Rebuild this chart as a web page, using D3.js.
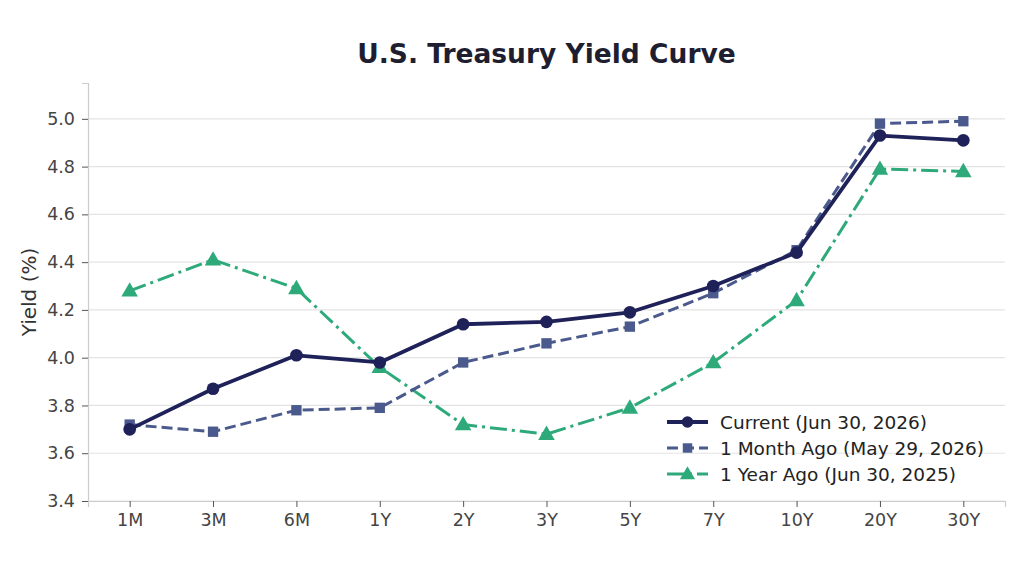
<!DOCTYPE html>
<html>
<head>
<meta charset="utf-8">
<script src="https://cdn.jsdelivr.net/npm/d3@7"></script>
<style>
  body { margin: 0; background: #fff; }
  text { font-family: "DejaVu Sans", sans-serif; }
</style>
</head>
<body>
<svg id="chart" width="1024" height="576"></svg>
<script>
// data
var tenors = ["1M", "3M", "6M", "1Y", "2Y", "3Y", "5Y", "7Y", "10Y", "20Y", "30Y"];
var current = [3.70, 3.87, 4.01, 3.98, 4.14, 4.15, 4.19, 4.30, 4.44, 4.93, 4.91];
var monthAgo = [3.72, 3.69, 3.78, 3.79, 3.98, 4.06, 4.13, 4.27, 4.45, 4.98, 4.99];
var yearAgo = [4.28, 4.41, 4.29, 3.96, 3.72, 3.68, 3.79, 3.98, 4.24, 4.79, 4.78];
var yTicks = [3.4, 3.6, 3.8, 4.0, 4.2, 4.4, 4.6, 4.8, 5.0];

var series = [
  { name: "Current (Jun 30, 2026)", values: current, color: "#1f2159", width: 3.8, dash: null, marker: "circle" },
  { name: "1 Month Ago (May 29, 2026)", values: monthAgo, color: "#4b5a8c", width: 3, dash: "11,5", marker: "square" },
  { name: "1 Year Ago (Jun 30, 2025)", values: yearAgo, color: "#2eaa7a", width: 3, dash: "17,5,3,5", marker: "triangle" }
];

var svg = d3.select("#chart"),
    margin = { top: 83, right: 19, bottom: 75, left: 88 },
    width = +svg.attr("width") - margin.left - margin.right,
    height = +svg.attr("height") - margin.top - margin.bottom;

var x = d3.scalePoint().domain(tenors).range([0, width]).padding(0.5);
var y = d3.scaleLinear().domain([3.4, 5.15]).range([height, 0]);

var g = svg.append("g").attr("transform", "translate(" + margin.left + "," + margin.top + ")");

// grid
g.append("g").selectAll("line")
  .data(yTicks).enter()
  .append("line")
  .attr("x1", 0).attr("x2", width)
  .attr("y1", function(d) { return y(d); })
  .attr("y2", function(d) { return y(d); })
  .attr("stroke", "#e3e3e3")
  .attr("stroke-width", 1.2);

// axes
var yAxis = g.append("g")
  .call(d3.axisLeft(y).tickValues(yTicks).tickFormat(d3.format(".1f")).tickSize(6).tickPadding(7));
var xAxis = g.append("g")
  .attr("transform", "translate(0," + height + ")")
  .call(d3.axisBottom(x).tickSize(6).tickPadding(7));

[xAxis, yAxis].forEach(function(a) {
  a.select(".domain").attr("stroke", "#cccccc").attr("stroke-width", 1.2);
  a.selectAll(".tick line").attr("stroke", "#555").attr("stroke-width", 1);
  a.selectAll(".tick text").attr("fill", "#444").style("font-size", "17.5px").style("font-family", "DejaVu Sans, sans-serif");
});

// lines
var line = d3.line()
  .x(function(d, i) { return x(tenors[i]); })
  .y(function(d) { return y(d); });

function drawMarker(sel, type, color, cx, cy, s) {
  if (type === "circle") {
    sel.append("circle").attr("cx", cx).attr("cy", cy).attr("r", s * 0.55).attr("fill", color);
  } else if (type === "square") {
    sel.append("rect").attr("x", cx - s * 0.45).attr("y", cy - s * 0.45)
      .attr("width", s * 0.9).attr("height", s * 0.9).attr("fill", color);
  } else {
    sel.append("path")
      .attr("d", d3.symbol().type(d3.symbolTriangle).size(s * s * 0.9)())
      .attr("transform", "translate(" + cx + "," + (cy + 1) + ")")
      .attr("fill", color);
  }
}

// draw back to front
series.slice().reverse().forEach(function(s) {
  var sg = g.append("g");
  sg.append("path")
    .datum(s.values)
    .attr("d", line)
    .attr("fill", "none")
    .attr("stroke", s.color)
    .attr("stroke-width", s.width)
    .attr("stroke-linejoin", "round")
    .attr("stroke-dasharray", s.dash);
  s.values.forEach(function(v, i) {
    drawMarker(sg, s.marker, s.color, x(tenors[i]), y(v), 11.5);
  });
});

// title and label
svg.append("text")
  .attr("x", margin.left + width / 2)
  .attr("y", 63)
  .attr("text-anchor", "middle")
  .attr("fill", "#1e1e30")
  .style("font-size", "26.5px")
  .style("font-weight", "bold")
  .text("U.S. Treasury Yield Curve");

svg.append("text")
  .attr("transform", "translate(36," + (margin.top + height / 2) + ") rotate(-90)")
  .attr("text-anchor", "middle")
  .attr("fill", "#333")
  .style("font-size", "20px")
  .text("Yield (%)");

// legend
var legend = svg.append("g").attr("transform", "translate(667,422)");
series.forEach(function(s, i) {
  var row = legend.append("g").attr("transform", "translate(0," + i * 26 + ")");
  row.append("line")
    .attr("x1", 0).attr("x2", 41)
    .attr("stroke", s.color)
    .attr("stroke-width", s.width)
    .attr("stroke-dasharray", s.dash);
  drawMarker(row, s.marker, s.color, 20.5, 0, 10.5);
  row.append("text")
    .attr("x", 53).attr("y", 6.5)
    .attr("fill", "#222")
    .style("font-size", "18.5px")
    .text(s.name);
});
</script>
</body>
</html>
